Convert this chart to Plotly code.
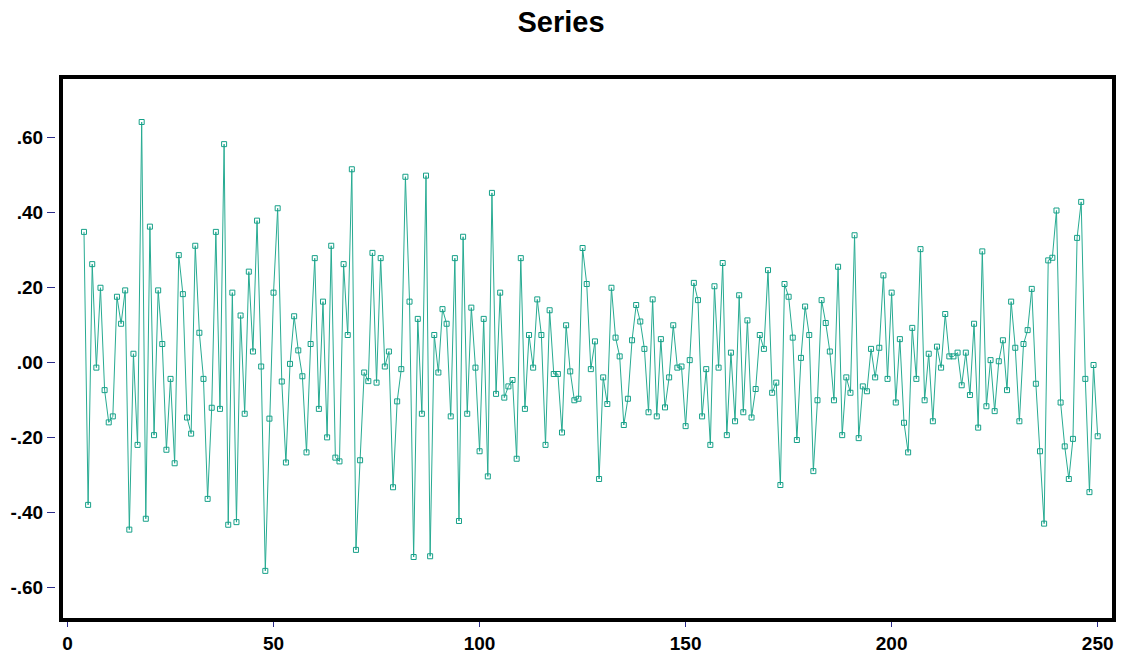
import plotly.graph_objects as go

# ---- data ----
x_start = 4
values = [
    0.348, -0.380, 0.262, -0.014, 0.199, -0.074, -0.160, -0.144, 0.175, 0.103,
    0.192, -0.446, 0.023, -0.220, 0.641, -0.417, 0.362, -0.194, 0.192, 0.049,
    -0.233, -0.044, -0.269, 0.286, 0.182, -0.147, -0.190, 0.311, 0.079, -0.044,
    -0.364, -0.121, 0.348, -0.124, 0.582, -0.433, 0.186, -0.426, 0.125, -0.137,
    0.242, 0.029, 0.378, -0.011, -0.556, -0.150, 0.186, 0.411, -0.051, -0.267,
    -0.004, 0.123, 0.032, -0.037, -0.240, 0.049, 0.278, -0.124, 0.162, -0.200,
    0.311, -0.254, -0.264, 0.262, 0.073, 0.515, -0.500, -0.261, -0.027, -0.050,
    0.292, -0.054, 0.278, -0.011, 0.029, -0.333, -0.104, -0.018, 0.495, 0.162,
    -0.519, 0.116, -0.137, 0.498, -0.517, 0.073, -0.027, 0.142, 0.103, -0.144,
    0.278, -0.423, 0.335, -0.137, 0.146, -0.014, -0.237, 0.116, -0.304, 0.452,
    -0.084, 0.186, -0.094, -0.064, -0.047, -0.257, 0.278, -0.124, 0.073, -0.014,
    0.168, 0.073, -0.220, 0.139, -0.031, -0.031, -0.187, 0.099, -0.024, -0.101,
    -0.097, 0.305, 0.209, -0.018, 0.056, -0.311, -0.040, -0.111, 0.199, 0.066,
    0.016, -0.167, -0.097, 0.059, 0.153, 0.109, 0.036, -0.133, 0.168, -0.144,
    0.062, -0.120, -0.040, 0.099, -0.014, -0.011, -0.170, 0.006, 0.212, 0.166,
    -0.144, -0.018, -0.220, 0.203, -0.014, 0.265, -0.194, 0.026, -0.157, 0.179,
    -0.133, 0.112, -0.147, -0.071, 0.073, 0.036, 0.246, -0.081, -0.054, -0.327,
    0.209, 0.175, 0.066, -0.207, 0.012, 0.149, 0.073, -0.290, -0.101, 0.166,
    0.105, 0.029, -0.101, 0.255, -0.194, -0.040, -0.081, 0.339, -0.202, -0.064,
    -0.077, 0.036, -0.040, 0.039, 0.232, -0.044, 0.186, -0.107, 0.062, -0.161,
    -0.240, 0.092, -0.044, 0.302, -0.101, 0.023, -0.157, 0.042, -0.014, 0.129,
    0.016, 0.016, 0.026, -0.061, 0.026, -0.087, 0.103, -0.174, 0.296, -0.117,
    0.006, -0.130, 0.003, 0.059, -0.074, 0.162, 0.039, -0.157, 0.049, 0.086,
    0.196, -0.057, -0.237, -0.430, 0.272, 0.279, 0.405, -0.107, -0.224, -0.311,
    -0.204, 0.332, 0.428, -0.044, -0.346, -0.007, -0.197,
]
x_vals = list(range(x_start, x_start + len(values)))

y_tickvals = [0.6, 0.4, 0.2, 0.0, -0.2, -0.4, -0.6]
y_ticktext = [".60", ".40", ".20", ".00", "-.20", "-.40", "-.60"]
x_tickvals = [0, 50, 100, 150, 200, 250]
x_ticktext = ["0", "50", "100", "150", "200", "250"]

# ---- figure ----
W, H = 1122, 662
ml, mr, mt, mb = 55, 8, 77, 35
plot_w = W - ml - mr
dom_start = 6 / plot_w

fig = go.Figure()
fig.add_trace(go.Scatter(
    x=x_vals, y=values, mode="lines+markers",
    line=dict(color="#27ab92", width=1),
    marker=dict(symbol="square-open", size=5, color="#16a088",
                line=dict(width=1, color="#16a088")),
    showlegend=False,
))

tick_font = dict(family="Liberation Sans Narrow, Arial Narrow, Arial", size=19,
                 color="black", weight="bold")

fig.update_layout(
    width=W, height=H,
    margin=dict(l=ml, r=mr, t=mt, b=mb),
    paper_bgcolor="white", plot_bgcolor="white",
    title=dict(text="Series", x=0.5, xref="container", xanchor="center",
               y=1 - 22 / H, yref="container", yanchor="middle",
               font=dict(family="Liberation Sans, Arial", size=29, color="black",
                         weight="bold")),
    xaxis=dict(domain=[dom_start, 1], range=[-1.58, 253.96],
               showgrid=False, zeroline=False, showline=False,
               tickmode="array", tickvals=x_tickvals, ticktext=x_ticktext,
               ticks="outside", ticklen=6, tickwidth=1, tickcolor="#2a2a8a",
               tickfont=tick_font),
    yaxis=dict(anchor="free", position=0, range=[-0.687, 0.761],
               showgrid=False, zeroline=False, showline=False,
               tickmode="array", tickvals=y_tickvals, ticktext=y_ticktext,
               ticks="outside", ticklen=8, tickwidth=1, tickcolor="#2a2a8a",
               tickfont=tick_font),
    shapes=[dict(type="rect", xref="paper", yref="paper",
                 x0=dom_start, x1=1, y0=0, y1=1,
                 line=dict(color="black", width=4), layer="above")],
)

fig.write_html("out.html")
